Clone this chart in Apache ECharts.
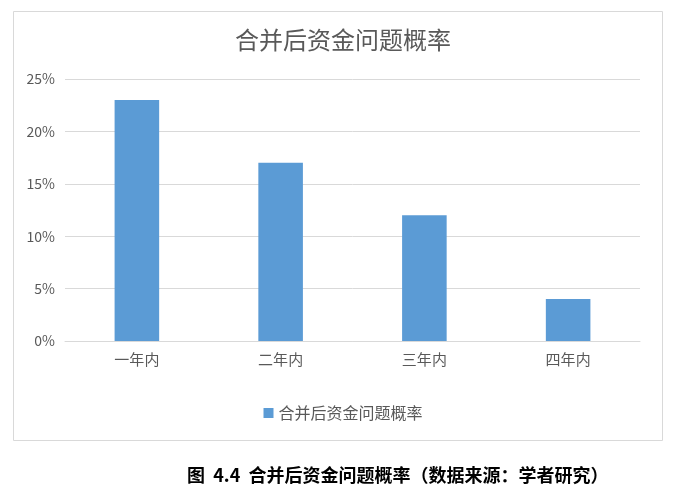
<!DOCTYPE html>
<html><head><meta charset="utf-8">
<script src="https://cdn.jsdelivr.net/npm/echarts@6/dist/echarts.min.js"></script>
<style>html,body{margin:0;padding:0;background:#fff}#c{width:686px;height:489px}</style>
</head><body><div id="c"></div>
<script>
const categories = ['一年内','二年内','三年内','四年内'];
const seriesName = '合并后资金问题概率';
const values = [23, 17, 12, 4];
const chartTitle = '合并后资金问题概率';
const caption = '图  4.4  合并后资金问题概率（数据来源：学者研究）';

const chart = echarts.init(document.getElementById('c'), null, {renderer:'canvas'});
const font = '"Noto Sans CJK SC","Microsoft YaHei",sans-serif';
chart.setOption({
  animation:false,
  backgroundColor:'#fff',
  graphic:[{type:'rect', shape:{x:13.5,y:11.5,width:649,height:429}, style:{fill:'none',stroke:'#d9d9d9',lineWidth:1}, silent:true}],
  title:[
    {text:chartTitle, left:'center', top:23, textStyle:{fontFamily:font, fontSize:24, fontWeight:'normal', color:'#595959'}},
    {text:caption, left:182, top:461, textStyle:{fontFamily:font, fontSize:18, fontWeight:'bold', color:'#000'}}
  ],
  legend:{data:[seriesName], bottom:63, left:'center', itemWidth:10, itemHeight:10, icon:'rect', itemGap:8,
    textStyle:{fontFamily:font, fontSize:16, color:'#595959'}},
  grid:{left:65, right:46, top:79, bottom:148, containLabel:false},
  xAxis:{type:'category', data:categories, axisTick:{show:false},
    axisLine:{lineStyle:{color:'#d9d9d9'}},
    axisLabel:{fontFamily:font, fontSize:15, color:'#595959', margin:11}},
  yAxis:{type:'value', min:0, max:25, interval:5,
    axisLine:{show:false}, axisTick:{show:false},
    splitLine:{lineStyle:{color:'#d9d9d9'}},
    axisLabel:{formatter:'{value}%', fontFamily:font, fontSize:14, color:'#595959', margin:10}},
  series:[{name:seriesName, type:'bar', data:values, barWidth:'31%', itemStyle:{color:'#5b9bd5'}}]
});
</script></body></html>
